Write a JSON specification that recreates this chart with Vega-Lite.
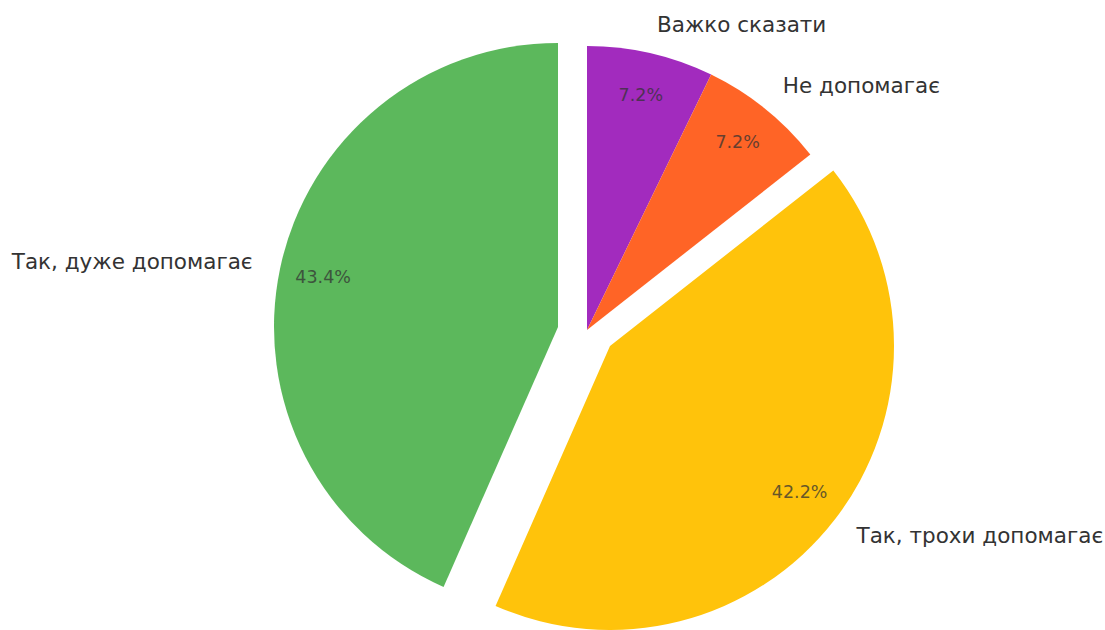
{
  "$schema": "https://vega.github.io/schema/vega-lite/v6.json",
  "width": 1036,
  "height": 600,
  "autosize": "none",
  "padding": {"left": 69, "top": 30, "right": 0, "bottom": 0},
  "background": "white",
  "config": {"view": {"stroke": null}, "font": "DejaVu Sans"},
  "data": {
    "values": [
      {"idx": 1, "label": "Важко сказати", "pct": 7.2, "ptxt": "7.2%"},
      {"idx": 2, "label": "Не допомагає", "pct": 7.2, "ptxt": "7.2%"},
      {"idx": 3, "label": "Так, трохи допомагає", "pct": 42.2, "ptxt": "42.2%"},
      {"idx": 4, "label": "Так, дуже допомагає", "pct": 43.4, "ptxt": "43.4%"}
    ]
  },
  "encoding": {
    "theta": {"field": "pct", "type": "quantitative", "stack": true},
    "order": {"field": "idx", "type": "quantitative"},
    "color": {
      "field": "label",
      "type": "nominal",
      "legend": null,
      "scale": {
        "domain": ["Важко сказати", "Не допомагає", "Так, трохи допомагає", "Так, дуже допомагає"],
        "range": ["#a22bbe", "#ff6426", "#ffc30b", "#5cb85c"]
      }
    }
  },
  "layer": [
    {
      "mark": {"type": "arc", "outerRadius": 284},
      "encoding": {"opacity": {"condition": {"test": "datum.idx <= 2", "value": 1}, "value": 0}}
    },
    {
      "mark": {"type": "arc", "outerRadius": 284, "xOffset": 23, "yOffset": 16},
      "encoding": {"opacity": {"condition": {"test": "datum.idx == 3", "value": 1}, "value": 0}}
    },
    {
      "mark": {"type": "arc", "outerRadius": 284, "xOffset": -29, "yOffset": -3},
      "encoding": {"opacity": {"condition": {"test": "datum.idx == 4", "value": 1}, "value": 0}}
    },
    {
      "mark": {"type": "text", "radius": 240, "fontSize": 17.5, "align": "center", "baseline": "middle"},
      "encoding": {
        "text": {"field": "ptxt"},
        "color": {"value": "#333333"},
        "opacity": {"condition": {"test": "datum.idx <= 2", "value": 0.75}, "value": 0}
      }
    },
    {
      "mark": {"type": "text", "radius": 240, "fontSize": 17.5, "align": "center", "baseline": "middle", "xOffset": 23, "yOffset": 16},
      "encoding": {
        "text": {"field": "ptxt"},
        "color": {"value": "#333333"},
        "opacity": {"condition": {"test": "datum.idx == 3", "value": 0.75}, "value": 0}
      }
    },
    {
      "mark": {"type": "text", "radius": 240, "fontSize": 17.5, "align": "center", "baseline": "middle", "xOffset": -29, "yOffset": -3},
      "encoding": {
        "text": {"field": "ptxt"},
        "color": {"value": "#333333"},
        "opacity": {"condition": {"test": "datum.idx == 4", "value": 0.75}, "value": 0}
      }
    },
    {
      "mark": {"type": "text", "radius": 312, "fontSize": 21.5, "align": "left", "baseline": "middle"},
      "encoding": {
        "text": {"field": "label"},
        "color": {"value": "#333333"},
        "opacity": {"condition": {"test": "datum.idx <= 2", "value": 1}, "value": 0}
      }
    },
    {
      "mark": {"type": "text", "radius": 312, "fontSize": 21.5, "align": "left", "baseline": "middle", "xOffset": 23, "yOffset": 16},
      "encoding": {
        "text": {"field": "label"},
        "color": {"value": "#333333"},
        "opacity": {"condition": {"test": "datum.idx == 3", "value": 1}, "value": 0}
      }
    },
    {
      "mark": {"type": "text", "radius": 312, "fontSize": 21.5, "align": "right", "baseline": "middle", "xOffset": -29, "yOffset": -3},
      "encoding": {
        "text": {"field": "label"},
        "color": {"value": "#333333"},
        "opacity": {"condition": {"test": "datum.idx == 4", "value": 1}, "value": 0}
      }
    }
  ]
}
